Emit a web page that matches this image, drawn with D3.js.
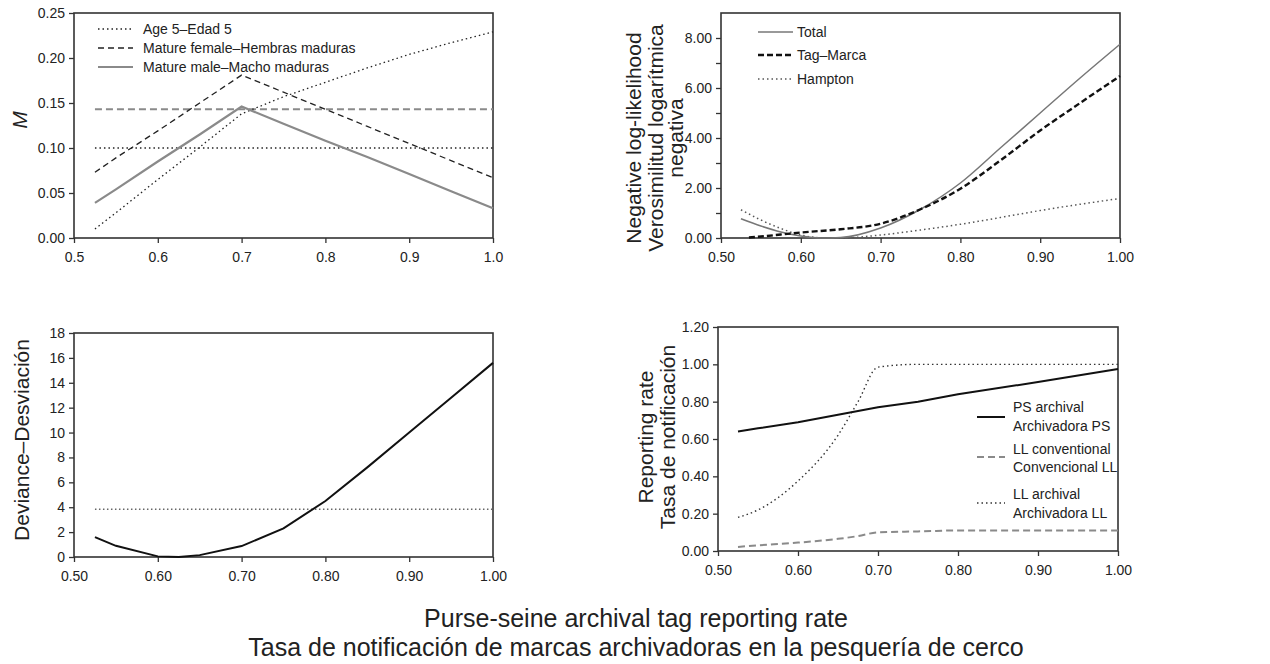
<!DOCTYPE html>
<html><head><meta charset="utf-8">
<script src="https://cdn.jsdelivr.net/npm/d3@7"></script>
<style>
body{margin:0;background:#fff;}
svg text{font-family:"Liberation Sans",Arial,sans-serif;fill:#222;}
</style></head>
<body><svg id="c" width="1270" height="664"></svg>
<script>
// ---------- Panel 1: natural mortality M ----------
const xM = [0.525, 0.55, 0.6, 0.65, 0.7, 0.75, 0.8, 0.85, 0.9, 0.95, 1.0];
const age5 = [0.010, 0.028, 0.065, 0.101, 0.138, 0.157, 0.173, 0.189, 0.204, 0.217, 0.229];
const matureFemale = [0.073, 0.089, 0.119, 0.150, 0.181, 0.162, 0.143, 0.124, 0.105, 0.086, 0.067];
const matureMale = [0.039, 0.054, 0.085, 0.115, 0.146, 0.127, 0.108, 0.090, 0.071, 0.052, 0.033];
const age5Ref = 0.10;
const femaleRef = 0.143;
const ticksXM = [0.5, 0.6, 0.7, 0.8, 0.9, 1.0];
const ticksYM = [0, 0.05, 0.10, 0.15, 0.20, 0.25];

// ---------- Panel 2: negative log-likelihood ----------
const xTotal = [0.525, 0.55, 0.575, 0.6, 0.625, 0.65, 0.7, 0.75, 0.8, 0.85, 0.9, 0.95, 1.0];
const nllTotal = [0.77, 0.48, 0.24, 0.08, 0.0, 0.02, 0.40, 1.15, 2.2, 3.6, 5.0, 6.4, 7.75];
const xTag = [0.535, 0.55, 0.575, 0.6, 0.65, 0.7, 0.75, 0.8, 0.85, 0.9, 0.95, 1.0];
const nllTag = [0.02, 0.06, 0.14, 0.22, 0.35, 0.57, 1.15, 1.97, 3.1, 4.3, 5.4, 6.48];
const xHampton = [0.525, 0.55, 0.575, 0.6, 0.625, 0.65, 0.7, 0.75, 0.8, 0.85, 0.9, 0.95, 1.0];
const nllHampton = [1.13, 0.72, 0.38, 0.12, 0.01, 0.0, 0.12, 0.32, 0.55, 0.82, 1.1, 1.35, 1.58];
const ticksX2 = [0.5, 0.6, 0.7, 0.8, 0.9, 1.0];
const ticksY2 = [0, 1, 2, 3, 4, 5, 6, 7, 8];

// ---------- Panel 3: deviance ----------
const xDev = [0.525, 0.55, 0.6, 0.625, 0.65, 0.7, 0.75, 0.8, 0.85, 0.9, 0.95, 1.0];
const deviance = [1.6, 0.9, 0.05, 0.0, 0.15, 0.88, 2.3, 4.5, 7.2, 10.0, 12.8, 15.6];
const chiRef = 3.84;
const ticksY3 = [0, 2, 4, 6, 8, 10, 12, 14, 16, 18];

// ---------- Panel 4: reporting rates ----------
const xRate = [0.525, 0.55, 0.6, 0.65, 0.675, 0.7, 0.75, 0.8, 0.9, 1.0];
const psArchival = [0.64, 0.657, 0.69, 0.73, 0.75, 0.77, 0.80, 0.84, 0.905, 0.975];
const llConventional = [0.022, 0.03, 0.045, 0.065, 0.08, 0.10, 0.105, 0.11, 0.11, 0.11];
const llArchival = [0.18, 0.22, 0.375, 0.62, 0.80, 0.985, 1.0, 1.0, 1.0, 1.0];
const ticksY4 = [0, 0.2, 0.4, 0.6, 0.8, 1.0, 1.2];

const svg = d3.select("#c");
const FRAME = "#333";
const TICK_FS = "14px";
const LEG_FS = "14px";

function panel(o) {
  const x = d3.scaleLinear().domain(o.xd).range([o.l, o.r]);
  const y = d3.scaleLinear().domain(o.yd).range([o.b, o.t]);
  const g = svg.append("g");
  const ax = g.append("g").attr("transform", `translate(0,${o.b})`)
    .call(d3.axisBottom(x).tickValues(o.xt).tickFormat(d3.format(o.xf)).tickSize(5).tickPadding(9));
  const ay = g.append("g").attr("transform", `translate(${o.l},0)`)
    .call(d3.axisLeft(y).tickValues(o.yt).tickFormat(o.yfmt).tickSize(5).tickPadding(4));
  [ax, ay].forEach(a => {
    a.select(".domain").remove();
    a.selectAll(".tick line").attr("stroke", FRAME).attr("stroke-width", 1.3);
    a.selectAll(".tick text").style("font-size", TICK_FS).attr("fill", "#222")
      .style("font-family", '"Liberation Sans",Arial,sans-serif');
  });
  g.append("rect").attr("x", o.l).attr("y", o.t).attr("width", o.r - o.l).attr("height", o.b - o.t)
    .attr("fill", "none").attr("stroke", FRAME).attr("stroke-width", 1.6);
  return {x, y, g};
}

function series(p, xs, ys, st, curve) {
  const line = d3.line().x((d, i) => p.x(xs[i])).y(d => p.y(d)).curve(curve || d3.curveLinear);
  p.g.append("path").datum(ys).attr("d", line).attr("fill", "none")
    .attr("stroke", st.c).attr("stroke-width", st.w).attr("stroke-dasharray", st.d || null);
}
function hline(p, x0, x1, v, st) {
  series(p, [x0, x1], [v, v], st);
}
function legend(items, x0, x1, tx) {
  items.forEach(it => {
    svg.append("line").attr("x1", x0).attr("x2", x1).attr("y1", it.y).attr("y2", it.y)
      .attr("stroke", it.st.c).attr("stroke-width", it.st.w).attr("stroke-dasharray", it.st.d || null);
    it.lines.forEach((t, k) => {
      svg.append("text").attr("x", tx).attr("y", it.ty[k]).attr("dy", "0.35em")
        .style("font-size", LEG_FS).text(t);
    });
  });
}
function ylab(lines, xs, cy, size, italic) {
  lines.forEach((t, i) => {
    svg.append("text").attr("transform", `translate(${xs[i]},${cy}) rotate(-90)`)
      .attr("text-anchor", "middle").style("font-size", size + "px")
      .style("font-style", italic ? "italic" : "normal").text(t);
  });
}

const DOT = {c: "#222", w: 1.3, d: "1.5,3"};
const DASH_BLK = {c: "#222", w: 1.3, d: "6,4"};
const DASH_GRY = {c: "#8a8a8a", w: 2, d: "7,4"};
const SOLID_GRY = {c: "#8a8a8a", w: 2.2};

// Panel 1
const p1 = panel({l: 74, r: 493, t: 13, b: 238, xd: [0.5, 1.0], yd: [0, 0.25], xt: ticksXM, xf: ".1f",
  yt: ticksYM, yfmt: d3.format(".2f")});
hline(p1, 0.525, 1.0, age5Ref, DOT);
hline(p1, 0.525, 1.0, femaleRef, DASH_GRY);
series(p1, xM, age5, DOT);
series(p1, xM, matureFemale, DASH_BLK);
series(p1, xM, matureMale, SOLID_GRY);
legend([
  {y: 29, ty: [29], lines: ["Age 5\u2013Edad 5"], st: DOT},
  {y: 48, ty: [48], lines: ["Mature female\u2013Hembras maduras"], st: DASH_BLK},
  {y: 67, ty: [67], lines: ["Mature male\u2013Macho maduras"], st: SOLID_GRY}
], 98, 133, 143);
ylab(["M"], [27], 120, 21, true);

// Panel 2
const p2 = panel({l: 721, r: 1120, t: 13, b: 238, xd: [0.5, 1.0], yd: [0, 9], xt: ticksX2, xf: ".2f",
  yt: ticksY2, yfmt: d => d % 2 === 0 ? d3.format(".2f")(d) : ""});
series(p2, xHampton, nllHampton, {c: "#555", w: 1.5, d: "1.5,3"}, d3.curveMonotoneX);
series(p2, xTotal, nllTotal, {c: "#777", w: 1.5}, d3.curveMonotoneX);
series(p2, xTag, nllTag, {c: "#111", w: 2.4, d: "6,3"}, d3.curveMonotoneX);
legend([
  {y: 32, ty: [32], lines: ["Total"], st: {c: "#777", w: 1.5}},
  {y: 55, ty: [55], lines: ["Tag\u2013Marca"], st: {c: "#111", w: 2.4, d: "6,3"}},
  {y: 79, ty: [79], lines: ["Hampton"], st: {c: "#555", w: 1.5, d: "1.5,3"}}
], 758, 793, 797);
ylab(["Negative log-likelihood", "Verosimilitud logar\u00edtmica", "negativa"], [641, 663, 683], 138, 21);

// Panel 3
const p3 = panel({l: 74, r: 493, t: 333, b: 557, xd: [0.5, 1.0], yd: [0, 18], xt: ticksX2, xf: ".2f",
  yt: ticksY3, yfmt: d3.format("d")});
hline(p3, 0.525, 1.0, chiRef, {c: "#666", w: 1.5, d: "1.5,2.5"});
series(p3, xDev, deviance, {c: "#111", w: 2});
ylab(["Deviance\u2013Desviaci\u00f3n"], [29], 440, 21);

// Panel 4
const p4 = panel({l: 718, r: 1118, t: 327, b: 551, xd: [0.5, 1.0], yd: [0, 1.2], xt: ticksX2, xf: ".2f",
  yt: ticksY4, yfmt: d3.format(".2f")});
series(p4, xRate, llConventional, DASH_GRY, d3.curveMonotoneX);
series(p4, xRate, llArchival, {c: "#333", w: 1.4, d: "1.5,3"}, d3.curveMonotoneX);
series(p4, xRate, psArchival, {c: "#111", w: 2});
legend([
  {y: 417, ty: [407, 426], lines: ["PS archival", "Archivadora PS"], st: {c: "#111", w: 2}},
  {y: 457, ty: [449, 467], lines: ["LL conventional", "Convencional LL"], st: DASH_GRY},
  {y: 503, ty: [494, 513], lines: ["LL archival", "Archivadora LL"], st: {c: "#333", w: 1.4, d: "1.5,3"}}
], 977, 1005, 1013);
ylab(["Reporting rate", "Tasa de notificaci\u00f3n"], [653, 675], 437, 21);

// Common x title
svg.append("text").attr("x", 636).attr("y", 627).attr("text-anchor", "middle")
  .style("font-size", "25px").text("Purse-seine archival tag reporting rate");
svg.append("text").attr("x", 636).attr("y", 656).attr("text-anchor", "middle")
  .style("font-size", "25px").text("Tasa de notificaci\u00f3n de marcas archivadoras en la pesquer\u00eda de cerco");
</script></body></html>
